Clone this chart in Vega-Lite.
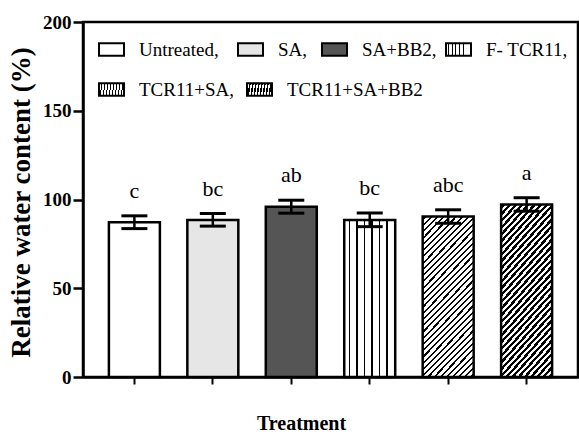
{
  "$schema": "https://vega.github.io/schema/vega-lite/v6.json",
  "width": 495,
  "height": 355,
  "autosize": "none",
  "padding": {"left": 83, "top": 22, "right": 1, "bottom": 58},
  "background": "white",
  "config": {
    "view": {"stroke": "black", "strokeWidth": 2.5},
    "font": "Liberation Serif",
    "axis": {"labelFont": "Liberation Serif", "titleFont": "Liberation Serif", "labelColor": "black", "titleColor": "black", "domainColor": "black", "tickColor": "black"},
    "legend": {"orient": "none", "direction": "horizontal", "title": null, "symbolType": "M-1,-0.5H1V0.5H-1Z", "symbolSize": 625, "symbolStrokeWidth": 2, "labelFont": "Liberation Serif", "labelFontSize": 19, "labelColor": "black", "labelOffset": 14, "labelLimit": 300}
  },
  "data": {
    "values": [
      {"t": "Untreated", "mean": 87.2, "lo": 83.6, "hi": 90.8, "letter": "c"},
      {"t": "SA", "mean": 88.5, "lo": 85.0, "hi": 92.1, "letter": "bc"},
      {"t": "SA+BB2", "mean": 95.9, "lo": 92.3, "hi": 99.6, "letter": "ab"},
      {"t": "F- TCR11", "mean": 88.5, "lo": 84.7, "hi": 92.4, "letter": "bc"},
      {"t": "TCR11+SA", "mean": 90.4, "lo": 86.6, "hi": 94.2, "letter": "abc"},
      {"t": "TCR11+SA+BB2", "mean": 97.2, "lo": 93.4, "hi": 101.0, "letter": "a"}
    ]
  },
  "encoding": {
    "x": {
      "field": "t", "type": "nominal", "sort": null,
      "scale": {"domain": ["Untreated", "SA", "SA+BB2", "F- TCR11", "TCR11+SA", "TCR11+SA+BB2"], "paddingInner": 0.35, "paddingOuter": 0.33},
      "axis": {"title": "Treatment", "labels": false, "ticks": true, "tickSize": 7, "tickWidth": 2, "domainWidth": 2.5, "titleFontSize": 20, "titleFontWeight": "bold", "titlePadding": 28, "titleX": 218}
    },
    "y": {
      "field": "mean", "type": "quantitative",
      "scale": {"domain": [0, 200], "nice": false},
      "title": "Relative water content (%)",
      "axis": {"values": [0, 50, 100, 150, 200], "grid": false, "labelFontSize": 19, "labelFontWeight": "bold", "tickSize": 10, "tickWidth": 2.5, "domainWidth": 2.5, "labelPadding": 2, "titleFontSize": 27, "titleFontWeight": "bold", "titleX": -62, "titleY": 180, "titleBaseline": "middle", "titleAlign": "center"}
    }
  },
  "layer": [
    {
      "transform": [{"filter": {"field": "t", "equal": "Untreated"}}],
      "mark": {"type": "bar", "strokeWidth": 2.5, "fill": "white"},
      "encoding": {
        "stroke": {"field": "t", "type": "nominal", "scale": {"range": ["black"]},
          "legend": {"legendX": 15, "legendY": 14, "labelExpr": "datum.value + ','", "encode": {"symbols": {"fill": {"value": "white"}, "stroke": {"value": "black"}}}}}
      }
    },
    {
      "transform": [{"filter": {"field": "t", "equal": "SA"}}],
      "mark": {"type": "bar", "strokeWidth": 2.5, "fill": "#e6e6e6"},
      "encoding": {
        "stroke": {"field": "t", "type": "nominal", "scale": {"range": ["black"]},
          "legend": {"legendX": 154, "legendY": 14, "labelExpr": "datum.value + ','", "encode": {"symbols": {"fill": {"value": "#e6e6e6"}, "stroke": {"value": "black"}}}}}
      }
    },
    {
      "transform": [{"filter": {"field": "t", "equal": "SA+BB2"}}],
      "mark": {"type": "bar", "strokeWidth": 2.5, "fill": "#555555"},
      "encoding": {
        "stroke": {"field": "t", "type": "nominal", "scale": {"range": ["black"]},
          "legend": {"legendX": 238, "legendY": 14, "labelExpr": "datum.value + ','", "encode": {"symbols": {"fill": {"value": "#555555"}, "stroke": {"value": "black"}}}}}
      }
    },
    {
      "transform": [{"filter": {"field": "t", "equal": "F- TCR11"}}],
      "mark": {"type": "bar", "strokeWidth": 2.5, "fill": {"gradient": "linear", "x1": 0, "y1": 0, "x2": 1, "y2": 0, "stops": [
              {"offset": 0, "color": "white"},
              {"offset": 0.084, "color": "white"}, {"offset": 0.084, "color": "black"}, {"offset": 0.114, "color": "black"}, {"offset": 0.114, "color": "white"},
              {"offset": 0.233, "color": "white"}, {"offset": 0.233, "color": "black"}, {"offset": 0.263, "color": "black"}, {"offset": 0.263, "color": "white"},
              {"offset": 0.379, "color": "white"}, {"offset": 0.379, "color": "black"}, {"offset": 0.409, "color": "black"}, {"offset": 0.409, "color": "white"},
              {"offset": 0.529, "color": "white"}, {"offset": 0.529, "color": "black"}, {"offset": 0.559, "color": "black"}, {"offset": 0.559, "color": "white"},
              {"offset": 0.675, "color": "white"}, {"offset": 0.675, "color": "black"}, {"offset": 0.705, "color": "black"}, {"offset": 0.705, "color": "white"},
              {"offset": 0.825, "color": "white"}, {"offset": 0.825, "color": "black"}, {"offset": 0.855, "color": "black"}, {"offset": 0.855, "color": "white"},
              {"offset": 1, "color": "white"}]}},
      "encoding": {
        "stroke": {"field": "t", "type": "nominal", "scale": {"range": ["black"]},
          "legend": {"legendX": 362, "legendY": 14, "labelExpr": "datum.value + ','", "encode": {"symbols": {"stroke": {"value": "black"}, "fill": {"value": {"gradient": "linear", "x1": 0, "y1": 0, "x2": 1, "y2": 0, "stops": [
                      {"offset": 0, "color": "white"},
                      {"offset": 0.303, "color": "white"}, {"offset": 0.303, "color": "black"}, {"offset": 0.363, "color": "black"}, {"offset": 0.363, "color": "white"},
                      {"offset": 0.637, "color": "white"}, {"offset": 0.637, "color": "black"}, {"offset": 0.697, "color": "black"}, {"offset": 0.697, "color": "white"},
                      {"offset": 1, "color": "white"}]}}}}}}
      }
    },
    {
      "transform": [{"filter": {"field": "t", "equal": "TCR11+SA"}}],
      "mark": {"type": "bar", "strokeWidth": 2.5, "fill": {"gradient": "linear", "x1": 0, "y1": 0, "x2": 0.39, "y2": 1.2, "stops": [
              {"offset": 0, "color": "white"},
              {"offset": 0.0097, "color": "white"}, {"offset": 0.0097, "color": "black"}, {"offset": 0.0197, "color": "black"}, {"offset": 0.0197, "color": "white"},
              {"offset": 0.0391, "color": "white"}, {"offset": 0.0391, "color": "black"}, {"offset": 0.0491, "color": "black"}, {"offset": 0.0491, "color": "white"},
              {"offset": 0.0685, "color": "white"}, {"offset": 0.0685, "color": "black"}, {"offset": 0.0785, "color": "black"}, {"offset": 0.0785, "color": "white"},
              {"offset": 0.0979, "color": "white"}, {"offset": 0.0979, "color": "black"}, {"offset": 0.1079, "color": "black"}, {"offset": 0.1079, "color": "white"},
              {"offset": 0.1274, "color": "white"}, {"offset": 0.1274, "color": "black"}, {"offset": 0.1374, "color": "black"}, {"offset": 0.1374, "color": "white"},
              {"offset": 0.1568, "color": "white"}, {"offset": 0.1568, "color": "black"}, {"offset": 0.1668, "color": "black"}, {"offset": 0.1668, "color": "white"},
              {"offset": 0.1862, "color": "white"}, {"offset": 0.1862, "color": "black"}, {"offset": 0.1962, "color": "black"}, {"offset": 0.1962, "color": "white"},
              {"offset": 0.2156, "color": "white"}, {"offset": 0.2156, "color": "black"}, {"offset": 0.2256, "color": "black"}, {"offset": 0.2256, "color": "white"},
              {"offset": 0.245, "color": "white"}, {"offset": 0.245, "color": "black"}, {"offset": 0.255, "color": "black"}, {"offset": 0.255, "color": "white"},
              {"offset": 0.2744, "color": "white"}, {"offset": 0.2744, "color": "black"}, {"offset": 0.2844, "color": "black"}, {"offset": 0.2844, "color": "white"},
              {"offset": 0.3038, "color": "white"}, {"offset": 0.3038, "color": "black"}, {"offset": 0.3138, "color": "black"}, {"offset": 0.3138, "color": "white"},
              {"offset": 0.3332, "color": "white"}, {"offset": 0.3332, "color": "black"}, {"offset": 0.3432, "color": "black"}, {"offset": 0.3432, "color": "white"},
              {"offset": 0.3626, "color": "white"}, {"offset": 0.3626, "color": "black"}, {"offset": 0.3726, "color": "black"}, {"offset": 0.3726, "color": "white"},
              {"offset": 0.3921, "color": "white"}, {"offset": 0.3921, "color": "black"}, {"offset": 0.4021, "color": "black"}, {"offset": 0.4021, "color": "white"},
              {"offset": 0.4215, "color": "white"}, {"offset": 0.4215, "color": "black"}, {"offset": 0.4315, "color": "black"}, {"offset": 0.4315, "color": "white"},
              {"offset": 0.4509, "color": "white"}, {"offset": 0.4509, "color": "black"}, {"offset": 0.4609, "color": "black"}, {"offset": 0.4609, "color": "white"},
              {"offset": 0.4803, "color": "white"}, {"offset": 0.4803, "color": "black"}, {"offset": 0.4903, "color": "black"}, {"offset": 0.4903, "color": "white"},
              {"offset": 0.5097, "color": "white"}, {"offset": 0.5097, "color": "black"}, {"offset": 0.5197, "color": "black"}, {"offset": 0.5197, "color": "white"},
              {"offset": 0.5391, "color": "white"}, {"offset": 0.5391, "color": "black"}, {"offset": 0.5491, "color": "black"}, {"offset": 0.5491, "color": "white"},
              {"offset": 0.5685, "color": "white"}, {"offset": 0.5685, "color": "black"}, {"offset": 0.5785, "color": "black"}, {"offset": 0.5785, "color": "white"},
              {"offset": 0.5979, "color": "white"}, {"offset": 0.5979, "color": "black"}, {"offset": 0.6079, "color": "black"}, {"offset": 0.6079, "color": "white"},
              {"offset": 0.6274, "color": "white"}, {"offset": 0.6274, "color": "black"}, {"offset": 0.6374, "color": "black"}, {"offset": 0.6374, "color": "white"},
              {"offset": 0.6568, "color": "white"}, {"offset": 0.6568, "color": "black"}, {"offset": 0.6668, "color": "black"}, {"offset": 0.6668, "color": "white"},
              {"offset": 0.6862, "color": "white"}, {"offset": 0.6862, "color": "black"}, {"offset": 0.6962, "color": "black"}, {"offset": 0.6962, "color": "white"},
              {"offset": 0.7156, "color": "white"}, {"offset": 0.7156, "color": "black"}, {"offset": 0.7256, "color": "black"}, {"offset": 0.7256, "color": "white"},
              {"offset": 0.745, "color": "white"}, {"offset": 0.745, "color": "black"}, {"offset": 0.755, "color": "black"}, {"offset": 0.755, "color": "white"},
              {"offset": 0.7744, "color": "white"}, {"offset": 0.7744, "color": "black"}, {"offset": 0.7844, "color": "black"}, {"offset": 0.7844, "color": "white"},
              {"offset": 0.8038, "color": "white"}, {"offset": 0.8038, "color": "black"}, {"offset": 0.8138, "color": "black"}, {"offset": 0.8138, "color": "white"},
              {"offset": 0.8332, "color": "white"}, {"offset": 0.8332, "color": "black"}, {"offset": 0.8432, "color": "black"}, {"offset": 0.8432, "color": "white"},
              {"offset": 0.8626, "color": "white"}, {"offset": 0.8626, "color": "black"}, {"offset": 0.8726, "color": "black"}, {"offset": 0.8726, "color": "white"},
              {"offset": 0.8921, "color": "white"}, {"offset": 0.8921, "color": "black"}, {"offset": 0.9021, "color": "black"}, {"offset": 0.9021, "color": "white"},
              {"offset": 0.9215, "color": "white"}, {"offset": 0.9215, "color": "black"}, {"offset": 0.9315, "color": "black"}, {"offset": 0.9315, "color": "white"},
              {"offset": 0.9509, "color": "white"}, {"offset": 0.9509, "color": "black"}, {"offset": 0.9609, "color": "black"}, {"offset": 0.9609, "color": "white"},
              {"offset": 0.9803, "color": "white"}, {"offset": 0.9803, "color": "black"}, {"offset": 0.9903, "color": "black"}, {"offset": 0.9903, "color": "white"},
              {"offset": 1, "color": "white"}]}},
      "encoding": {
        "stroke": {"field": "t", "type": "nominal", "scale": {"range": ["black"]},
          "legend": {"legendX": 15, "legendY": 54, "labelExpr": "datum.value + ','", "encode": {"symbols": {"stroke": {"value": "black"}, "fill": {"value": {"gradient": "linear", "x1": 0, "y1": 0, "x2": 1.2, "y2": 0.6, "stops": [
                      {"offset": 0, "color": "white"},
                      {"offset": 0.065, "color": "white"}, {"offset": 0.065, "color": "black"}, {"offset": 0.135, "color": "black"}, {"offset": 0.135, "color": "white"},
                      {"offset": 0.265, "color": "white"}, {"offset": 0.265, "color": "black"}, {"offset": 0.335, "color": "black"}, {"offset": 0.335, "color": "white"},
                      {"offset": 0.465, "color": "white"}, {"offset": 0.465, "color": "black"}, {"offset": 0.535, "color": "black"}, {"offset": 0.535, "color": "white"},
                      {"offset": 0.665, "color": "white"}, {"offset": 0.665, "color": "black"}, {"offset": 0.735, "color": "black"}, {"offset": 0.735, "color": "white"},
                      {"offset": 0.865, "color": "white"}, {"offset": 0.865, "color": "black"}, {"offset": 0.935, "color": "black"}, {"offset": 0.935, "color": "white"},
                      {"offset": 1, "color": "white"}]}}}}}}
      }
    },
    {
      "transform": [{"filter": {"field": "t", "equal": "TCR11+SA+BB2"}}],
      "mark": {"type": "bar", "strokeWidth": 2.5, "fill": {"gradient": "linear", "x1": 0, "y1": 0, "x2": 0.39, "y2": 1.2, "stops": [
              {"offset": 0, "color": "white"},
              {"offset": 0.0072, "color": "white"}, {"offset": 0.0072, "color": "black"}, {"offset": 0.0222, "color": "black"}, {"offset": 0.0222, "color": "white"},
              {"offset": 0.0366, "color": "white"}, {"offset": 0.0366, "color": "black"}, {"offset": 0.0516, "color": "black"}, {"offset": 0.0516, "color": "white"},
              {"offset": 0.066, "color": "white"}, {"offset": 0.066, "color": "black"}, {"offset": 0.081, "color": "black"}, {"offset": 0.081, "color": "white"},
              {"offset": 0.0954, "color": "white"}, {"offset": 0.0954, "color": "black"}, {"offset": 0.1104, "color": "black"}, {"offset": 0.1104, "color": "white"},
              {"offset": 0.1249, "color": "white"}, {"offset": 0.1249, "color": "black"}, {"offset": 0.1399, "color": "black"}, {"offset": 0.1399, "color": "white"},
              {"offset": 0.1543, "color": "white"}, {"offset": 0.1543, "color": "black"}, {"offset": 0.1693, "color": "black"}, {"offset": 0.1693, "color": "white"},
              {"offset": 0.1837, "color": "white"}, {"offset": 0.1837, "color": "black"}, {"offset": 0.1987, "color": "black"}, {"offset": 0.1987, "color": "white"},
              {"offset": 0.2131, "color": "white"}, {"offset": 0.2131, "color": "black"}, {"offset": 0.2281, "color": "black"}, {"offset": 0.2281, "color": "white"},
              {"offset": 0.2425, "color": "white"}, {"offset": 0.2425, "color": "black"}, {"offset": 0.2575, "color": "black"}, {"offset": 0.2575, "color": "white"},
              {"offset": 0.2719, "color": "white"}, {"offset": 0.2719, "color": "black"}, {"offset": 0.2869, "color": "black"}, {"offset": 0.2869, "color": "white"},
              {"offset": 0.3013, "color": "white"}, {"offset": 0.3013, "color": "black"}, {"offset": 0.3163, "color": "black"}, {"offset": 0.3163, "color": "white"},
              {"offset": 0.3307, "color": "white"}, {"offset": 0.3307, "color": "black"}, {"offset": 0.3457, "color": "black"}, {"offset": 0.3457, "color": "white"},
              {"offset": 0.3601, "color": "white"}, {"offset": 0.3601, "color": "black"}, {"offset": 0.3751, "color": "black"}, {"offset": 0.3751, "color": "white"},
              {"offset": 0.3896, "color": "white"}, {"offset": 0.3896, "color": "black"}, {"offset": 0.4046, "color": "black"}, {"offset": 0.4046, "color": "white"},
              {"offset": 0.419, "color": "white"}, {"offset": 0.419, "color": "black"}, {"offset": 0.434, "color": "black"}, {"offset": 0.434, "color": "white"},
              {"offset": 0.4484, "color": "white"}, {"offset": 0.4484, "color": "black"}, {"offset": 0.4634, "color": "black"}, {"offset": 0.4634, "color": "white"},
              {"offset": 0.4778, "color": "white"}, {"offset": 0.4778, "color": "black"}, {"offset": 0.4928, "color": "black"}, {"offset": 0.4928, "color": "white"},
              {"offset": 0.5072, "color": "white"}, {"offset": 0.5072, "color": "black"}, {"offset": 0.5222, "color": "black"}, {"offset": 0.5222, "color": "white"},
              {"offset": 0.5366, "color": "white"}, {"offset": 0.5366, "color": "black"}, {"offset": 0.5516, "color": "black"}, {"offset": 0.5516, "color": "white"},
              {"offset": 0.566, "color": "white"}, {"offset": 0.566, "color": "black"}, {"offset": 0.581, "color": "black"}, {"offset": 0.581, "color": "white"},
              {"offset": 0.5954, "color": "white"}, {"offset": 0.5954, "color": "black"}, {"offset": 0.6104, "color": "black"}, {"offset": 0.6104, "color": "white"},
              {"offset": 0.6249, "color": "white"}, {"offset": 0.6249, "color": "black"}, {"offset": 0.6399, "color": "black"}, {"offset": 0.6399, "color": "white"},
              {"offset": 0.6543, "color": "white"}, {"offset": 0.6543, "color": "black"}, {"offset": 0.6693, "color": "black"}, {"offset": 0.6693, "color": "white"},
              {"offset": 0.6837, "color": "white"}, {"offset": 0.6837, "color": "black"}, {"offset": 0.6987, "color": "black"}, {"offset": 0.6987, "color": "white"},
              {"offset": 0.7131, "color": "white"}, {"offset": 0.7131, "color": "black"}, {"offset": 0.7281, "color": "black"}, {"offset": 0.7281, "color": "white"},
              {"offset": 0.7425, "color": "white"}, {"offset": 0.7425, "color": "black"}, {"offset": 0.7575, "color": "black"}, {"offset": 0.7575, "color": "white"},
              {"offset": 0.7719, "color": "white"}, {"offset": 0.7719, "color": "black"}, {"offset": 0.7869, "color": "black"}, {"offset": 0.7869, "color": "white"},
              {"offset": 0.8013, "color": "white"}, {"offset": 0.8013, "color": "black"}, {"offset": 0.8163, "color": "black"}, {"offset": 0.8163, "color": "white"},
              {"offset": 0.8307, "color": "white"}, {"offset": 0.8307, "color": "black"}, {"offset": 0.8457, "color": "black"}, {"offset": 0.8457, "color": "white"},
              {"offset": 0.8601, "color": "white"}, {"offset": 0.8601, "color": "black"}, {"offset": 0.8751, "color": "black"}, {"offset": 0.8751, "color": "white"},
              {"offset": 0.8896, "color": "white"}, {"offset": 0.8896, "color": "black"}, {"offset": 0.9046, "color": "black"}, {"offset": 0.9046, "color": "white"},
              {"offset": 0.919, "color": "white"}, {"offset": 0.919, "color": "black"}, {"offset": 0.934, "color": "black"}, {"offset": 0.934, "color": "white"},
              {"offset": 0.9484, "color": "white"}, {"offset": 0.9484, "color": "black"}, {"offset": 0.9634, "color": "black"}, {"offset": 0.9634, "color": "white"},
              {"offset": 0.9778, "color": "white"}, {"offset": 0.9778, "color": "black"}, {"offset": 0.9928, "color": "black"}, {"offset": 0.9928, "color": "white"},
              {"offset": 1, "color": "white"}]}},
      "encoding": {
        "stroke": {"field": "t", "type": "nominal", "scale": {"range": ["black"]},
          "legend": {"legendX": 163, "legendY": 54, "encode": {"symbols": {"stroke": {"value": "black"}, "fill": {"value": {"gradient": "linear", "x1": 0, "y1": 0, "x2": 1.2, "y2": 0.6, "stops": [
                      {"offset": 0, "color": "white"},
                      {"offset": 0.04, "color": "white"}, {"offset": 0.04, "color": "black"}, {"offset": 0.16, "color": "black"}, {"offset": 0.16, "color": "white"},
                      {"offset": 0.24, "color": "white"}, {"offset": 0.24, "color": "black"}, {"offset": 0.36, "color": "black"}, {"offset": 0.36, "color": "white"},
                      {"offset": 0.44, "color": "white"}, {"offset": 0.44, "color": "black"}, {"offset": 0.56, "color": "black"}, {"offset": 0.56, "color": "white"},
                      {"offset": 0.64, "color": "white"}, {"offset": 0.64, "color": "black"}, {"offset": 0.76, "color": "black"}, {"offset": 0.76, "color": "white"},
                      {"offset": 0.84, "color": "white"}, {"offset": 0.84, "color": "black"}, {"offset": 0.96, "color": "black"}, {"offset": 0.96, "color": "white"},
                      {"offset": 1, "color": "white"}]}}}}}}
      }
    },
    {
      "mark": {"type": "rule", "strokeWidth": 2.5, "color": "black"},
      "encoding": {
        "y": {"field": "lo", "type": "quantitative"},
        "y2": {"field": "hi"}
      }
    },
    {
      "mark": {"type": "tick", "thickness": 3, "size": 26, "color": "black", "opacity": 1},
      "encoding": {"y": {"field": "hi", "type": "quantitative"}}
    },
    {
      "mark": {"type": "tick", "thickness": 3, "size": 26, "color": "black", "opacity": 1},
      "encoding": {"y": {"field": "lo", "type": "quantitative"}}
    },
    {
      "mark": {"type": "text", "dy": -18, "baseline": "alphabetic", "fontSize": 22, "font": "Liberation Serif", "color": "black"},
      "encoding": {
        "y": {"field": "hi", "type": "quantitative"},
        "text": {"field": "letter"}
      }
    }
  ],
  "resolve": {"scale": {"stroke": "independent"}, "legend": {"stroke": "independent"}}
}
